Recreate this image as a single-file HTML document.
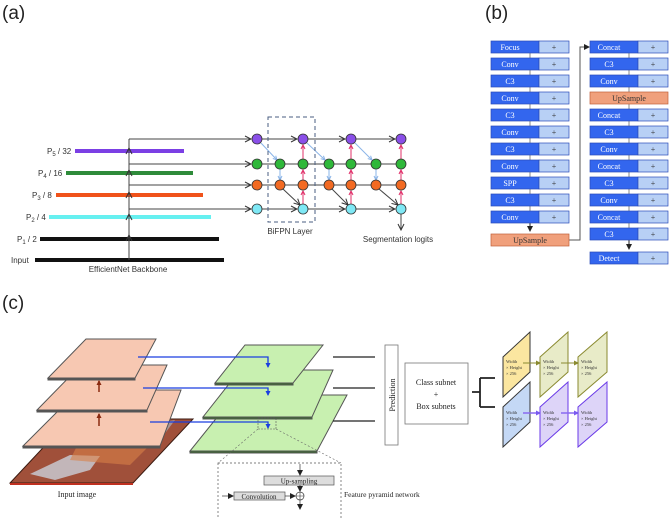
<!DOCTYPE html>
<html><head><meta charset="utf-8"><style>html,body{margin:0;padding:0;background:#fff;overflow:hidden}svg{display:block}</style></head><body>
<svg width="669" height="519" viewBox="0 0 669 519" xmlns="http://www.w3.org/2000/svg" font-family="Liberation Sans, sans-serif">
<defs>
<marker id="oa" markerWidth="8" markerHeight="8" refX="7" refY="4" orient="auto" markerUnits="userSpaceOnUse"><path d="M1,1 L7,4 L1,7" fill="none" stroke="#333" stroke-width="1"/></marker>
<marker id="pa" markerWidth="6" markerHeight="6" refX="5" refY="3" orient="auto" markerUnits="userSpaceOnUse"><path d="M1,1 L5,3 L1,5" fill="none" stroke="#e0306a" stroke-width="1"/></marker>
<marker id="ba" markerWidth="6" markerHeight="6" refX="5" refY="3" orient="auto" markerUnits="userSpaceOnUse"><path d="M1,1 L5,3 L1,5" fill="none" stroke="#8ab4e8" stroke-width="1"/></marker>
<marker id="fa" markerWidth="6" markerHeight="6" refX="5" refY="3" orient="auto" markerUnits="userSpaceOnUse"><path d="M0,0 L6,3 L0,6z" fill="#222"/></marker>
<marker id="bl" markerWidth="5" markerHeight="5" refX="4" refY="2.5" orient="auto" markerUnits="userSpaceOnUse"><path d="M0,0 L5,2.5 L0,5z" fill="#1a3fe0"/></marker>
<marker id="rd" markerWidth="5" markerHeight="5" refX="4" refY="2.5" orient="auto" markerUnits="userSpaceOnUse"><path d="M0,0 L5,2.5 L0,5z" fill="#8a2a10"/></marker>
<marker id="ol" markerWidth="5" markerHeight="5" refX="4" refY="2.5" orient="auto" markerUnits="userSpaceOnUse"><path d="M0,0 L5,2.5 L0,5z" fill="#8a8a30"/></marker>
<marker id="pu" markerWidth="5" markerHeight="5" refX="4" refY="2.5" orient="auto" markerUnits="userSpaceOnUse"><path d="M0,0 L5,2.5 L0,5z" fill="#7a5af0"/></marker>
</defs>

<!-- (a) -->
<text x="2" y="19" font-size="19" fill="#222">(a)</text>
<g stroke-width="4">
<line x1="75" y1="151" x2="184" y2="151" stroke="#7b3fe4"/>
<line x1="66" y1="173" x2="193" y2="173" stroke="#2e8b3a"/>
<line x1="56" y1="195" x2="203" y2="195" stroke="#f0521a"/>
<line x1="49" y1="217" x2="211" y2="217" stroke="#66f0f0"/>
<line x1="40" y1="239" x2="219" y2="239" stroke="#111"/>
<line x1="35" y1="260" x2="224" y2="260" stroke="#111"/>
</g>
<g font-size="8" fill="#333">
<text x="47" y="154">P<tspan font-size="6" dy="2">5</tspan><tspan dy="-2"> / 32</tspan></text>
<text x="38" y="176">P<tspan font-size="6" dy="2">4</tspan><tspan dy="-2"> / 16</tspan></text>
<text x="32" y="198">P<tspan font-size="6" dy="2">3</tspan><tspan dy="-2"> / 8</tspan></text>
<text x="26" y="220">P<tspan font-size="6" dy="2">2</tspan><tspan dy="-2"> / 4</tspan></text>
<text x="17" y="242">P<tspan font-size="6" dy="2">1</tspan><tspan dy="-2"> / 2</tspan></text>
<text x="11" y="263">Input</text>
<text x="128" y="272" text-anchor="middle">EfficientNet Backbone</text>
<text x="290" y="234" text-anchor="middle">BiFPN Layer</text>
<text x="398" y="242" text-anchor="middle">Segmentation logits</text>
</g>
<g stroke="#444" stroke-width="1" fill="none">
<line x1="129" y1="260" x2="129" y2="139"/>
<line x1="129" y1="245" x2="129" y2="235" marker-end="url(#oa)"/>
<line x1="129" y1="224" x2="129" y2="214" marker-end="url(#oa)"/>
<line x1="129" y1="202" x2="129" y2="192" marker-end="url(#oa)"/>
<line x1="129" y1="180" x2="129" y2="170" marker-end="url(#oa)"/>
<line x1="129" y1="158" x2="129" y2="148" marker-end="url(#oa)"/>
<line x1="129" y1="139" x2="251" y2="139" marker-end="url(#oa)"/>
<line x1="129" y1="164" x2="251" y2="164" marker-end="url(#oa)"/>
<line x1="129" y1="185" x2="251" y2="185" marker-end="url(#oa)"/>
<line x1="129" y1="209" x2="251" y2="209" marker-end="url(#oa)"/>
<line x1="262" y1="139" x2="297" y2="139" marker-end="url(#oa)"/>
<line x1="308" y1="139" x2="345" y2="139" marker-end="url(#oa)"/>
<line x1="356" y1="139" x2="395" y2="139" marker-end="url(#oa)"/>
<line x1="262" y1="164" x2="396" y2="164"/>
<line x1="262" y1="185" x2="396" y2="185"/>
<line x1="262" y1="209" x2="297" y2="209" marker-end="url(#oa)"/>
<line x1="308" y1="209" x2="345" y2="209" marker-end="url(#oa)"/>
<line x1="356" y1="209" x2="395" y2="209" marker-end="url(#oa)"/>
<line x1="283" y1="189" x2="300" y2="205" marker-end="url(#oa)"/>
<line x1="332" y1="189" x2="348" y2="205" marker-end="url(#oa)"/>
<line x1="379" y1="189" x2="398" y2="205" marker-end="url(#oa)"/>
<line x1="401" y1="214" x2="401" y2="230" marker-end="url(#oa)"/>
</g>
<g stroke="#8ab4e8" stroke-width="1">
<line x1="261" y1="143" x2="277" y2="160" marker-end="url(#ba)"/>
<line x1="307" y1="143" x2="325" y2="160" marker-end="url(#ba)"/>
<line x1="355" y1="143" x2="372" y2="160" marker-end="url(#ba)"/>
<line x1="280" y1="169" x2="280" y2="180" marker-end="url(#ba)"/>
<line x1="329" y1="169" x2="329" y2="180" marker-end="url(#ba)"/>
<line x1="376" y1="169" x2="376" y2="180" marker-end="url(#ba)"/>
</g>
<g stroke="#e0306a" stroke-width="1">
<line x1="303" y1="204" x2="303" y2="191" marker-end="url(#pa)"/><line x1="303" y1="180" x2="303" y2="170" marker-end="url(#pa)"/><line x1="303" y1="159" x2="303" y2="145" marker-end="url(#pa)"/>
<line x1="351" y1="204" x2="351" y2="191" marker-end="url(#pa)"/><line x1="351" y1="180" x2="351" y2="170" marker-end="url(#pa)"/><line x1="351" y1="159" x2="351" y2="145" marker-end="url(#pa)"/>
<line x1="401" y1="204" x2="401" y2="191" marker-end="url(#pa)"/><line x1="401" y1="180" x2="401" y2="170" marker-end="url(#pa)"/><line x1="401" y1="159" x2="401" y2="145" marker-end="url(#pa)"/>
</g>
<rect x="268" y="117" width="47" height="105" fill="none" stroke="#4a5e80" stroke-width="1" stroke-dasharray="4,3"/>
<g stroke="#333" stroke-width="0.8">
<g fill="#8a4fe8"><circle cx="257" cy="139" r="5"/><circle cx="303" cy="139" r="5"/><circle cx="351" cy="139" r="5"/><circle cx="401" cy="139" r="5"/></g>
<g fill="#2fb83a"><circle cx="257" cy="164" r="5"/><circle cx="280" cy="164" r="5"/><circle cx="303" cy="164" r="5"/><circle cx="329" cy="164" r="5"/><circle cx="351" cy="164" r="5"/><circle cx="376" cy="164" r="5"/><circle cx="401" cy="164" r="5"/></g>
<g fill="#f26a22"><circle cx="257" cy="185" r="5"/><circle cx="280" cy="185" r="5"/><circle cx="303" cy="185" r="5"/><circle cx="329" cy="185" r="5"/><circle cx="351" cy="185" r="5"/><circle cx="376" cy="185" r="5"/><circle cx="401" cy="185" r="5"/></g>
<g fill="#7fe8f5"><circle cx="257" cy="209" r="5"/><circle cx="303" cy="209" r="5"/><circle cx="351" cy="209" r="5"/><circle cx="401" cy="209" r="5"/></g>
</g>

<!-- (b) -->
<text x="485" y="19" font-size="19" fill="#222">(b)</text>
<g stroke="#888" stroke-width="1"><line x1="530" y1="47" x2="530" y2="228"/><line x1="629" y1="47" x2="629" y2="244"/></g>
<path d="M530,222 L530,231" stroke="#222" marker-end="url(#fa)"/>
<path d="M629,240 L629,249" stroke="#222" marker-end="url(#fa)"/>
<path d="M569,240 L580,240 L580,47 L589,47" fill="none" stroke="#555" marker-end="url(#fa)"/>
<g font-family="Liberation Serif, serif" font-size="8">
<g stroke="#2a4bb8" stroke-width="0.7">
<rect x="491" y="41" width="48" height="12" fill="#3366ee"/><rect x="539" y="41" width="30" height="12" fill="#b8d0f5"/>
<rect x="491" y="58" width="48" height="12" fill="#3366ee"/><rect x="539" y="58" width="30" height="12" fill="#b8d0f5"/>
<rect x="491" y="75" width="48" height="12" fill="#3366ee"/><rect x="539" y="75" width="30" height="12" fill="#b8d0f5"/>
<rect x="491" y="92" width="48" height="12" fill="#3366ee"/><rect x="539" y="92" width="30" height="12" fill="#b8d0f5"/>
<rect x="491" y="109" width="48" height="12" fill="#3366ee"/><rect x="539" y="109" width="30" height="12" fill="#b8d0f5"/>
<rect x="491" y="126" width="48" height="12" fill="#3366ee"/><rect x="539" y="126" width="30" height="12" fill="#b8d0f5"/>
<rect x="491" y="143" width="48" height="12" fill="#3366ee"/><rect x="539" y="143" width="30" height="12" fill="#b8d0f5"/>
<rect x="491" y="160" width="48" height="12" fill="#3366ee"/><rect x="539" y="160" width="30" height="12" fill="#b8d0f5"/>
<rect x="491" y="177" width="48" height="12" fill="#3366ee"/><rect x="539" y="177" width="30" height="12" fill="#b8d0f5"/>
<rect x="491" y="194" width="48" height="12" fill="#3366ee"/><rect x="539" y="194" width="30" height="12" fill="#b8d0f5"/>
<rect x="491" y="211" width="48" height="12" fill="#3366ee"/><rect x="539" y="211" width="30" height="12" fill="#b8d0f5"/>
<rect x="590" y="41" width="48" height="12" fill="#3366ee"/><rect x="638" y="41" width="30" height="12" fill="#b8d0f5"/>
<rect x="590" y="58" width="48" height="12" fill="#3366ee"/><rect x="638" y="58" width="30" height="12" fill="#b8d0f5"/>
<rect x="590" y="75" width="48" height="12" fill="#3366ee"/><rect x="638" y="75" width="30" height="12" fill="#b8d0f5"/>
<rect x="590" y="109" width="48" height="12" fill="#3366ee"/><rect x="638" y="109" width="30" height="12" fill="#b8d0f5"/>
<rect x="590" y="126" width="48" height="12" fill="#3366ee"/><rect x="638" y="126" width="30" height="12" fill="#b8d0f5"/>
<rect x="590" y="143" width="48" height="12" fill="#3366ee"/><rect x="638" y="143" width="30" height="12" fill="#b8d0f5"/>
<rect x="590" y="160" width="48" height="12" fill="#3366ee"/><rect x="638" y="160" width="30" height="12" fill="#b8d0f5"/>
<rect x="590" y="177" width="48" height="12" fill="#3366ee"/><rect x="638" y="177" width="30" height="12" fill="#b8d0f5"/>
<rect x="590" y="194" width="48" height="12" fill="#3366ee"/><rect x="638" y="194" width="30" height="12" fill="#b8d0f5"/>
<rect x="590" y="211" width="48" height="12" fill="#3366ee"/><rect x="638" y="211" width="30" height="12" fill="#b8d0f5"/>
<rect x="590" y="228" width="48" height="12" fill="#3366ee"/><rect x="638" y="228" width="30" height="12" fill="#b8d0f5"/>
<rect x="590" y="252" width="48" height="12" fill="#3366ee"/><rect x="638" y="252" width="30" height="12" fill="#b8d0f5"/>
</g>
<g stroke="#c0603a" stroke-width="0.7" fill="#f0a07c"><rect x="491" y="234" width="78" height="12"/><rect x="590" y="92" width="78" height="12"/></g>
<g fill="#fff" text-anchor="middle">
<text x="510" y="50">Focus</text><text x="510" y="67">Conv</text><text x="510" y="84">C3</text><text x="510" y="101">Conv</text><text x="510" y="118">C3</text><text x="510" y="135">Conv</text><text x="510" y="152">C3</text><text x="510" y="169">Conv</text><text x="510" y="186">SPP</text><text x="510" y="203">C3</text><text x="510" y="220">Conv</text>
<text x="609" y="50">Concat</text><text x="609" y="67">C3</text><text x="609" y="84">Conv</text><text x="609" y="118">Concat</text><text x="609" y="135">C3</text><text x="609" y="152">Conv</text><text x="609" y="169">Concat</text><text x="609" y="186">C3</text><text x="609" y="203">Conv</text><text x="609" y="220">Concat</text><text x="609" y="237">C3</text><text x="609" y="261">Detect</text>
</g>
<g fill="#333" text-anchor="middle">
<text x="530" y="243">UpSample</text><text x="629" y="101">UpSample</text>
<text x="554" y="50">+</text><text x="554" y="67">+</text><text x="554" y="84">+</text><text x="554" y="101">+</text><text x="554" y="118">+</text><text x="554" y="135">+</text><text x="554" y="152">+</text><text x="554" y="169">+</text><text x="554" y="186">+</text><text x="554" y="203">+</text><text x="554" y="220">+</text>
<text x="653" y="50">+</text><text x="653" y="67">+</text><text x="653" y="84">+</text><text x="653" y="118">+</text><text x="653" y="135">+</text><text x="653" y="152">+</text><text x="653" y="169">+</text><text x="653" y="186">+</text><text x="653" y="203">+</text><text x="653" y="220">+</text><text x="653" y="237">+</text><text x="653" y="261">+</text>
</g>
</g>

<!-- (c) -->
<text x="2" y="309" font-size="19" fill="#222">(c)</text>
<!-- image plane -->
<polygon points="70,419 193,419 133,483 10,483" fill="#a0503a" stroke="#3a1a10" stroke-width="1"/>
<polygon points="10,483 133,483 133,485 10,485" fill="#c03020"/>
<path d="M30,474 L70,455 L100,456 L90,470 L55,480 Z" fill="#c8c8d0" opacity="0.85"/>
<path d="M120,430 L175,420 L160,440 L130,445 Z" fill="#b0b0b8" opacity="0.7"/>
<path d="M80,440 L150,445 L130,465 L70,460 Z" fill="#d88048" opacity="0.6"/>
<!-- pink planes -->
<g fill="#f7c8b2" stroke="#555" stroke-width="1">
<polygon points="79,390 181,390 160,446 23,446"/><polygon points="23,446 160,446 160,448 23,448" fill="#555"/>
<polygon points="81,365 167,365 147,410 37,410"/><polygon points="37,410 147,410 147,412 37,412" fill="#555"/>
<polygon points="86,339 156,339 135,378 48,378"/><polygon points="48,378 135,378 135,380 48,380" fill="#555"/>
</g>
<g stroke="#8a2a10" stroke-width="1.5"><line x1="99" y1="392" x2="99" y2="381" marker-end="url(#rd)"/><line x1="99" y1="426" x2="99" y2="414" marker-end="url(#rd)"/></g>
<!-- green planes -->
<g fill="#c8f0b0" stroke="#555" stroke-width="1">
<polygon points="235,395 347,395 317,451 190,451"/><polygon points="190,451 317,451 317,453 190,453" fill="#3a6a30"/>
<polygon points="240,370 333,370 312,417 203,417"/><polygon points="203,417 312,417 312,419 203,419" fill="#3a6a30"/>
<polygon points="245,345 323,345 293,383 215,383"/><polygon points="215,383 293,383 293,385 215,385" fill="#3a6a30"/>
</g>
<g stroke="#1a3fe0" stroke-width="1.3" fill="none">
<path d="M138,357 L268,357 L268,367" marker-end="url(#bl)"/>
<path d="M143,388 L268,388 L268,395" marker-end="url(#bl)"/>
<path d="M150,422 L268,422 L268,428" marker-end="url(#bl)"/>
</g>
<rect x="258" y="418" width="18" height="11" fill="none" stroke="#555" stroke-width="0.6" stroke-dasharray="2,1"/>
<g stroke="#666" stroke-width="0.6" stroke-dasharray="2,2"><line x1="258" y1="429" x2="218" y2="463"/><line x1="276" y1="429" x2="341" y2="463"/></g>
<rect x="218" y="463" width="123" height="62" fill="none" stroke="#555" stroke-width="0.7" stroke-dasharray="2,2"/>
<rect x="264" y="476" width="70" height="9" fill="#ddd" stroke="#555" stroke-width="0.7"/>
<rect x="234" y="492" width="51" height="8" fill="#ddd" stroke="#555" stroke-width="0.7"/>
<circle cx="300" cy="496" r="4" fill="#fff" stroke="#333" stroke-width="0.7"/>
<path d="M296,496 H304 M300,492 V500" stroke="#333" stroke-width="0.6"/>
<g stroke="#333" stroke-width="0.7">
<line x1="300" y1="464" x2="300" y2="475" marker-end="url(#fa)"/>
<line x1="300" y1="485" x2="300" y2="491" marker-end="url(#fa)"/>
<line x1="222" y1="496" x2="233" y2="496" marker-end="url(#fa)"/>
<line x1="285" y1="496" x2="295" y2="496" marker-end="url(#fa)"/>
<line x1="300" y1="500" x2="300" y2="509" marker-end="url(#fa)"/>
</g>
<g font-family="Liberation Serif, serif" fill="#222">
<text x="299" y="483.5" font-size="7" text-anchor="middle">Up-sampling</text>
<text x="259" y="499" font-size="7" text-anchor="middle">Convolution</text>
<text x="344" y="497" font-size="7.5">Feature pyramid network</text>
<text x="77" y="497" font-size="8" text-anchor="middle">Input image</text>
</g>
<g stroke="#222" stroke-width="1.3"><line x1="333" y1="357" x2="375" y2="357"/><line x1="333" y1="388" x2="375" y2="388"/><line x1="333" y1="421" x2="375" y2="421"/></g>
<rect x="385" y="345" width="13" height="100" fill="#fff" stroke="#777" stroke-width="0.8"/>
<text transform="translate(395,395) rotate(-90)" font-family="Liberation Serif, serif" font-size="8" text-anchor="middle" fill="#222">Prediction</text>
<rect x="405" y="363" width="63" height="61" fill="#fff" stroke="#777" stroke-width="0.8"/>
<g font-family="Liberation Serif, serif" font-size="8" text-anchor="middle" fill="#222"><text x="436" y="385">Class subnet</text><text x="436" y="397">+</text><text x="436" y="409">Box subnets</text></g>
<path d="M472,392 H480 M480,378 V407 M480,378 H495 M480,407 H495" fill="none" stroke="#222" stroke-width="1.8"/>
<g stroke-width="1">
<polygon points="503,357 530,332 530,372 503,397" fill="#fbe6a0" stroke="#333"/>
<polygon points="540,357 568,332 568,372 540,397" fill="#e8ebc8" stroke="#8a8a30"/>
<polygon points="578,357 607,332 607,372 578,397" fill="#e8ebc8" stroke="#8a8a30"/>
<polygon points="503,407 530,382 530,422 503,447" fill="#c4d8f5" stroke="#333"/>
<polygon points="540,407 568,382 568,422 540,447" fill="#ddd4f8" stroke="#6a3ae8"/>
<polygon points="578,407 607,382 607,422 578,447" fill="#ddd4f8" stroke="#6a3ae8"/>
</g>
<g stroke-width="1"><line x1="523" y1="363" x2="540" y2="363" stroke="#8a8a30" marker-end="url(#ol)"/><line x1="561" y1="363" x2="578" y2="363" stroke="#8a8a30" marker-end="url(#ol)"/>
<line x1="523" y1="413" x2="540" y2="413" stroke="#8a6af0" stroke-width="1.5" marker-end="url(#pu)"/><line x1="561" y1="413" x2="578" y2="413" stroke="#8a6af0" stroke-width="1.5" marker-end="url(#pu)"/></g>
<g font-family="Liberation Serif, serif" font-size="4.5" fill="#333">
<text x="506" y="363">Width</text><text x="506" y="369">× Height</text><text x="506" y="375">× 256</text>
<text x="543" y="363">Width</text><text x="543" y="369">× Height</text><text x="543" y="375">× 256</text>
<text x="581" y="363">Width</text><text x="581" y="369">× Height</text><text x="581" y="375">× 256</text>
<text x="506" y="414">Width</text><text x="506" y="420">× Height</text><text x="506" y="426">× 256</text>
<text x="543" y="414">Width</text><text x="543" y="420">× Height</text><text x="543" y="426">× 256</text>
<text x="581" y="414">Width</text><text x="581" y="420">× Height</text><text x="581" y="426">× 256</text>
</g>
</svg>
</body></html>
